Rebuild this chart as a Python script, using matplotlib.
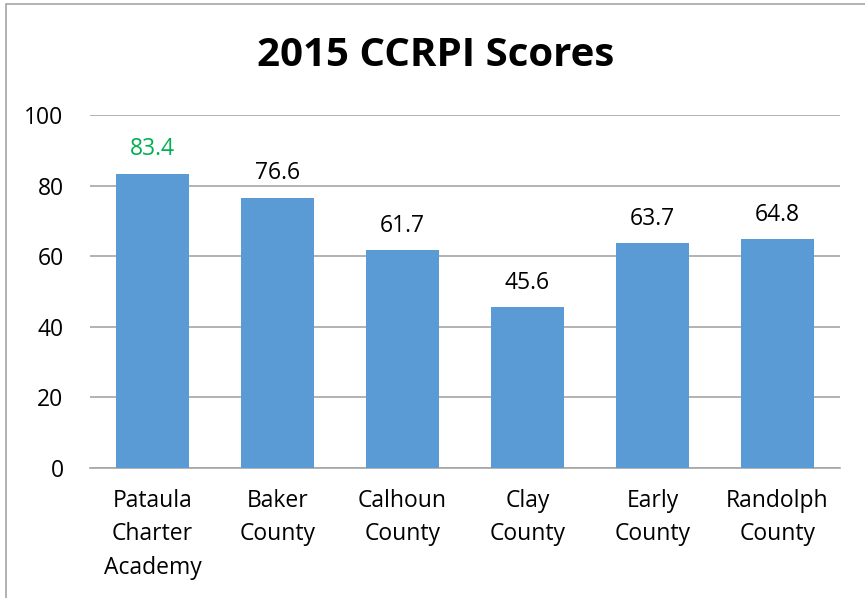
import matplotlib.pyplot as plt
from matplotlib.patches import Rectangle

# data
schools = ['Pataula\nCharter\nAcademy', 'Baker\nCounty', 'Calhoun\nCounty',
           'Clay\nCounty', 'Early\nCounty', 'Randolph\nCounty']
scores = [83.4, 76.6, 61.7, 45.6, 63.7, 64.8]
label_colors = ['#00b050', 'black', 'black', 'black', 'black', 'black']
yticks = [0, 20, 40, 60, 80, 100]

plt.rcParams['font.family'] = ['Open Sans', 'DejaVu Sans']

fig = plt.figure(figsize=(8.65, 5.98), dpi=100)
ax = fig.add_axes([90 / 865, 1 - 468 / 598, 750 / 865, 353 / 598])

# outer chart border (partly cut off in the original)
fig.patches.append(Rectangle((6 / 865, -0.1), 1.2, 1 - 4 / 598 + 0.1,
                             transform=fig.transFigure, fill=False,
                             edgecolor='#a6a6a6', linewidth=1.2))

x = range(len(schools))
ax.bar(x, scores, width=0.58, color='#5b9bd5', zorder=3)

for i, (v, c) in enumerate(zip(scores, label_colors)):
    ax.annotate(f'{v}', (i, v), xytext=(0, 9), textcoords='offset points',
                ha='center', va='bottom', fontsize=16.5, color=c)

ax.set_xlim(-0.5, len(schools) - 0.5)
ax.set_ylim(0, 100)
ax.set_yticks(yticks)
ax.set_xticks(list(x))
ax.set_xticklabels(schools, fontsize=16.5, linespacing=1.52)
ax.tick_params(axis='y', labelsize=16.5, length=0, pad=19)
ax.tick_params(axis='x', length=0, pad=15)
ax.grid(axis='y', color='#a6a6a6', linewidth=1.2, zorder=0)
for s in ['top', 'right', 'left']:
    ax.spines[s].set_visible(False)
ax.spines['bottom'].set_color('#a6a6a6')
ax.spines['bottom'].set_linewidth(1.2)

fig.text(436 / 865, 1 - 56 / 598, '2015 CCRPI Scores', ha='center', va='center',
         fontsize=29, fontweight='bold')

fig.savefig('out.png', dpi=100, facecolor='white')
